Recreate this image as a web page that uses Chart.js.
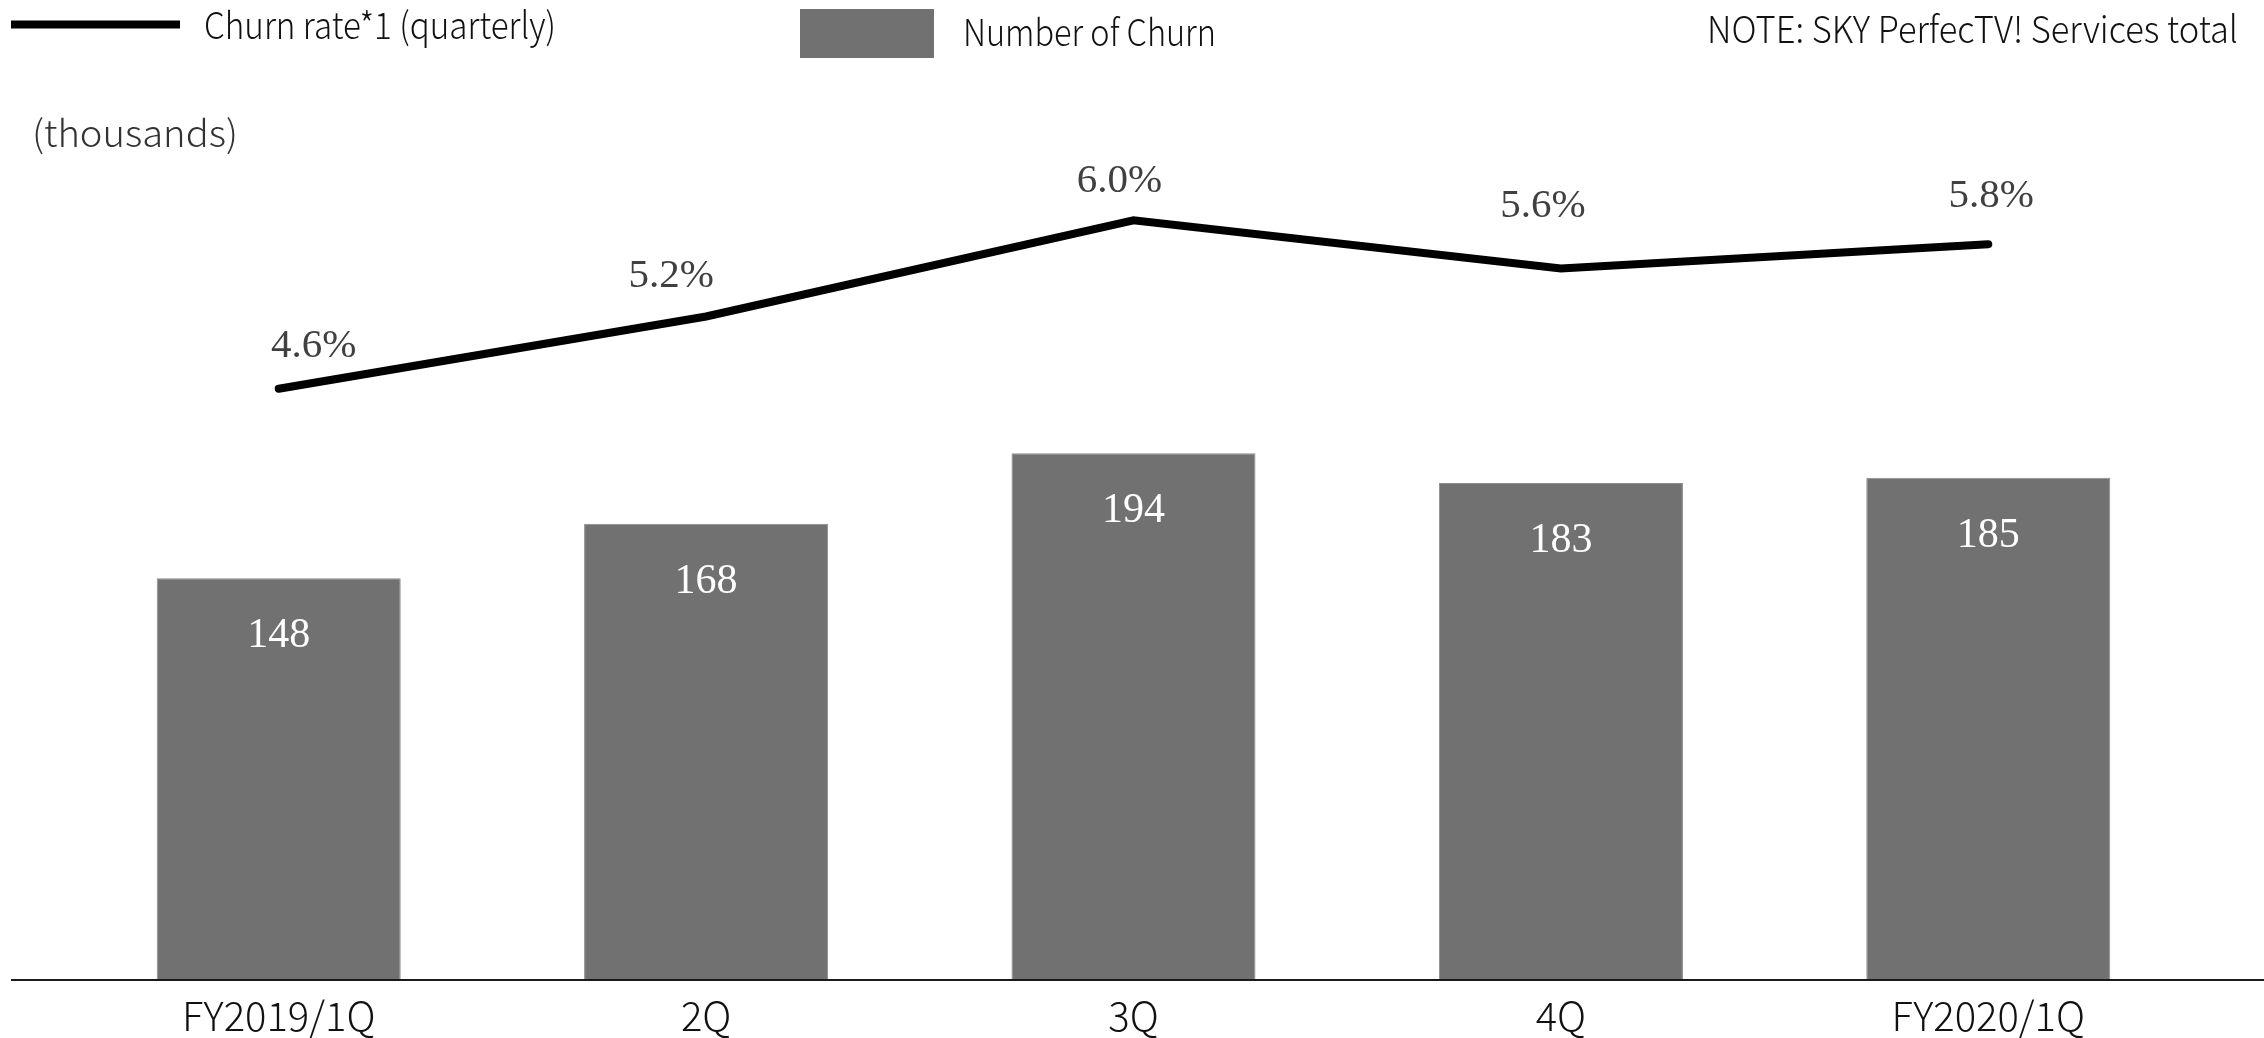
<!DOCTYPE html>
<html>
<head>
<meta charset="utf-8">
<title>Churn</title>
<script src="https://cdn.jsdelivr.net/npm/chart.js@4.4.1/dist/chart.umd.min.js"></script>
<style>
  html, body { margin: 0; padding: 0; background: #fff; }
  #wrap { width: 2264px; height: 1038px; }
</style>
</head>
<body>
<div id="wrap"><canvas id="churnChart" width="2264" height="1038"></canvas></div>
<script>
// quarterly churn figures
const quarters = ["FY2019/1Q", "2Q", "3Q", "4Q", "FY2020/1Q"];
const churnCount = [148, 168, 194, 183, 185];   // thousands
const churnRate = [4.6, 5.2, 6.0, 5.6, 5.8];    // %
// hand placement of the % labels around each point [dx, dy]
const rateLabelNudge = [[35, -42], [-35, -40], [-14, -39], [-18, -62], [3, -48]];

const sansFont = "'Noto Sans CJK JP', 'Noto Sans', sans-serif";
const serifFont = "'Times New Roman', 'Liberation Serif', serif";
const barGray = "#717171";

// draws text squeezed/stretched to a given width
function fitText(ctx, text, x, y, width, font, color) {
    ctx.save();
    ctx.font = font;
    ctx.fillStyle = color;
    ctx.textAlign = "left";
    ctx.textBaseline = "middle";
    let w = ctx.measureText(text).width;
    ctx.translate(x, y);
    ctx.scale(width / w, 1);
    ctx.fillText(text, 0, 0);
    ctx.restore();
}

const decorations = {
    id: "decorations",
    afterDatasetsDraw(chart) {
        const ctx = chart.ctx;
        const xScale = chart.scales.x;
        const yScale = chart.scales.y;
        const zeroY = yScale.getPixelForValue(0);

        // base line
        ctx.save();
        ctx.strokeStyle = "#1a1a1a";
        ctx.lineWidth = 2;
        ctx.beginPath();
        ctx.moveTo(11, zeroY);
        ctx.lineTo(chart.width, zeroY);
        ctx.stroke();
        ctx.restore();

        // category labels under the axis
        ctx.save();
        ctx.font = "300 40px " + sansFont;
        ctx.fillStyle = "#111";
        ctx.textAlign = "center";
        ctx.textBaseline = "alphabetic";
        quarters.forEach((q, i) => {
            ctx.fillText(q, xScale.getPixelForValue(i), zeroY + 51);
        });
        ctx.restore();

        // values inside the bars
        const barMeta = chart.getDatasetMeta(1);
        ctx.save();
        ctx.font = "42px " + serifFont;
        ctx.fillStyle = "#ffffff";
        ctx.textAlign = "center";
        ctx.textBaseline = "middle";
        barMeta.data.forEach((bar, i) => {
            ctx.fillText(String(churnCount[i]), bar.x, bar.y + 58);
        });
        ctx.restore();

        // rate labels
        const lineMeta = chart.getDatasetMeta(0);
        ctx.save();
        ctx.font = "41px " + serifFont;
        ctx.fillStyle = "#404040";
        ctx.textAlign = "center";
        ctx.textBaseline = "middle";
        lineMeta.data.forEach((pt, i) => {
            ctx.fillText(churnRate[i].toFixed(1) + "%", pt.x + rateLabelNudge[i][0], pt.y + rateLabelNudge[i][1]);
        });
        ctx.restore();

        // legend
        ctx.save();
        ctx.strokeStyle = "#000";
        ctx.lineWidth = 8;
        ctx.beginPath();
        ctx.moveTo(11, 24.5);
        ctx.lineTo(180, 24.5);
        ctx.stroke();
        ctx.fillStyle = barGray;
        ctx.fillRect(800, 9, 134, 49);
        ctx.restore();

        fitText(ctx, "Churn rate*1 (quarterly)", 204, 25, 352, "300 37px " + sansFont, "#111");
        fitText(ctx, "Number of Churn", 963, 32, 253, "300 37px " + sansFont, "#111");
        fitText(ctx, "NOTE: SKY PerfecTV! Services total", 1707, 29, 531, "300 37px " + sansFont, "#111");
        fitText(ctx, "(thousands)", 32, 133, 206, "300 37px " + sansFont, "#333");
    }
};

const canvas = document.getElementById("churnChart");
const churnChart = new Chart(canvas, {
    type: "bar",
    data: {
        labels: quarters,
        datasets: [
            {
                type: "line",
                label: "Churn rate*1 (quarterly)",
                data: churnRate,
                yAxisID: "y1",
                borderColor: "#000",
                borderWidth: 8,
                borderCapStyle: "round",
                borderJoinStyle: "miter",
                pointRadius: 0,
                tension: 0,
                fill: false,
                order: 0
            },
            {
                type: "bar",
                label: "Number of Churn",
                data: churnCount,
                yAxisID: "y",
                backgroundColor: barGray,
                borderColor: "#8c8c8c",
                borderWidth: 1,
                barPercentage: 0.571,
                categoryPercentage: 1,
                order: 1
            }
        ]
    },
    options: {
        responsive: false,
        devicePixelRatio: 1,
        animation: false,
        layout: { padding: { top: 100, left: 65, right: 62, bottom: 58 } },
        plugins: {
            legend: { display: false },
            tooltip: { enabled: false }
        },
        scales: {
            x: {
                display: false,
                offset: true
            },
            y: {
                display: false,
                min: 0,
                max: 324.1
            },
            y1: {
                display: false,
                min: -0.316,
                max: 7.0
            }
        }
    },
    plugins: [decorations]
});
</script>
</body>
</html>
